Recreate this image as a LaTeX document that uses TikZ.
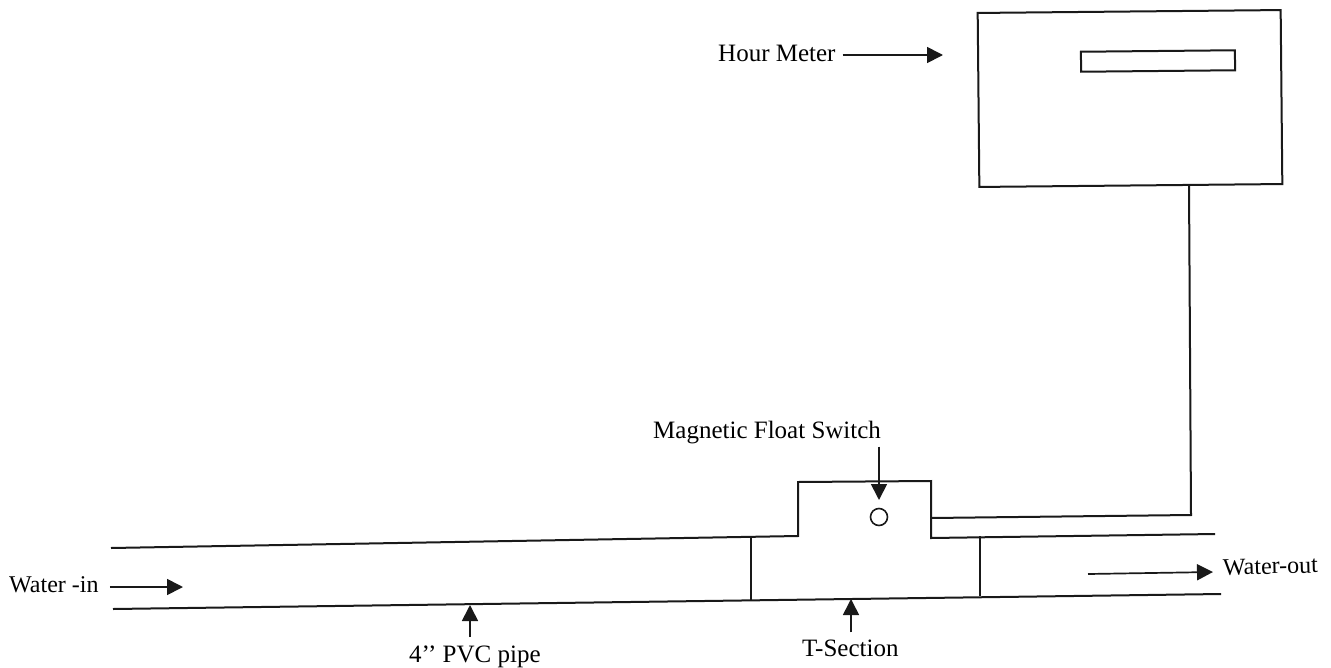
\documentclass[tikz,border=0pt]{standalone}
\usepackage{fontspec}
\setmainfont{Liberation Serif}
\usetikzlibrary{arrows.meta,positioning}

\begin{document}
\begin{tikzpicture}[
  x=1pt, y=-1pt,
  font=\fontsize{25}{29}\selectfont,
  tag/.style={inner sep=0pt, anchor=base west},
  small tag/.style={tag, font=\fontsize{24}{28}\selectfont},
  wall/.style={line width=2pt, line join=miter, black!90},
  thin wall/.style={line width=1.6pt, black!90},
  pointer/.style={-{Triangle[length=16pt, width=16pt]}, line width=1.7pt, black!90},
  box/.style={draw=black!90, line width=2pt, inner sep=0pt, rotate=0.55},
]
  \useasboundingbox (0,0) rectangle (1331,667);

  % hour meter
  \node[box, minimum width=303pt, minimum height=174pt] (meter) at (1130,98.5) {};
  \node[box, minimum width=154pt, minimum height=20pt] (window) at (1158,61) {};

  % pipe walls
  \coordinate (inTop)    at (111,548);
  \coordinate (teeLeft)  at (798,536);
  \coordinate (teeTopL)  at (798,482);
  \coordinate (teeTopR)  at (931,481);
  \coordinate (teeRight) at (931,538);
  \coordinate (outTop)   at (1215,534);
  \coordinate (inBot)    at (113,609);
  \coordinate (outBot)   at (1221,594);
  \draw[wall] (inTop) -- (teeLeft) -- (teeTopL) -- (teeTopR) -- (teeRight) -- (outTop);
  \draw[wall] (inBot) -- (outBot);

  % joints of the T-section
  \coordinate (jointLa) at (751,537);
  \coordinate (jointLb) at (751,600);
  \coordinate (jointRa) at (980,536);
  \coordinate (jointRb) at (980,596);
  \draw[thin wall] (jointLa) -- (jointLb);
  \draw[thin wall] (jointRa) -- (jointRb);

  % float switch and its wire
  \node[circle, draw=black!90, line width=1.6pt, minimum size=17pt, inner sep=0pt] (float) at (879,517) {};
  \coordinate (wireA) at (931,518);
  \coordinate (wireB) at (1191,515);
  \coordinate (wireC) at (1189,185);
  \draw[wall] (wireA) -- (wireB) -- (wireC);

  % labels
  \node[tag] (hourLabel)  at (718,61)   {Hour Meter};
  \node[tag] (floatLabel) at (653,438)  {Magnetic Float Switch};
  \node[small tag] (inLabel) at (9,592) {Water -in};
  \node[small tag, rotate=1.5] (outLabel) at (1223,575) {Water-out};
  \node[tag] (pipeLabel)  at (409,662)  {4’’ PVC pipe};
  \node[tag] (teeLabel)   at (802,656)  {T-Section};

  % pointers
  \coordinate (hourTip)  at (943,55);
  \coordinate (floatTip) at (879,500);
  \coordinate (inTip)    at (183,587);
  \coordinate (outTail)  at (1088,574);
  \coordinate (outTip)   at (1213,572);
  \coordinate (pipeTip)  at (470,605);
  \coordinate (teeTip)   at (851,599);
  \draw[pointer] (hourLabel.east |- hourTip) ++(7,0) -- (hourTip);
  \draw[pointer] (floatLabel.south -| floatTip) ++(0,3) -- (floatTip);
  \draw[pointer] (inLabel.east |- inTip) ++(11,0) -- (inTip);
  \draw[pointer] (outTail) -- (outTip);
  \draw[pointer] (pipeLabel.north -| pipeTip) ++(0,-8) -- (pipeTip);
  \draw[pointer] (teeLabel.north -| teeTip) ++(0,-7) -- (teeTip);
\end{tikzpicture}
\end{document}
